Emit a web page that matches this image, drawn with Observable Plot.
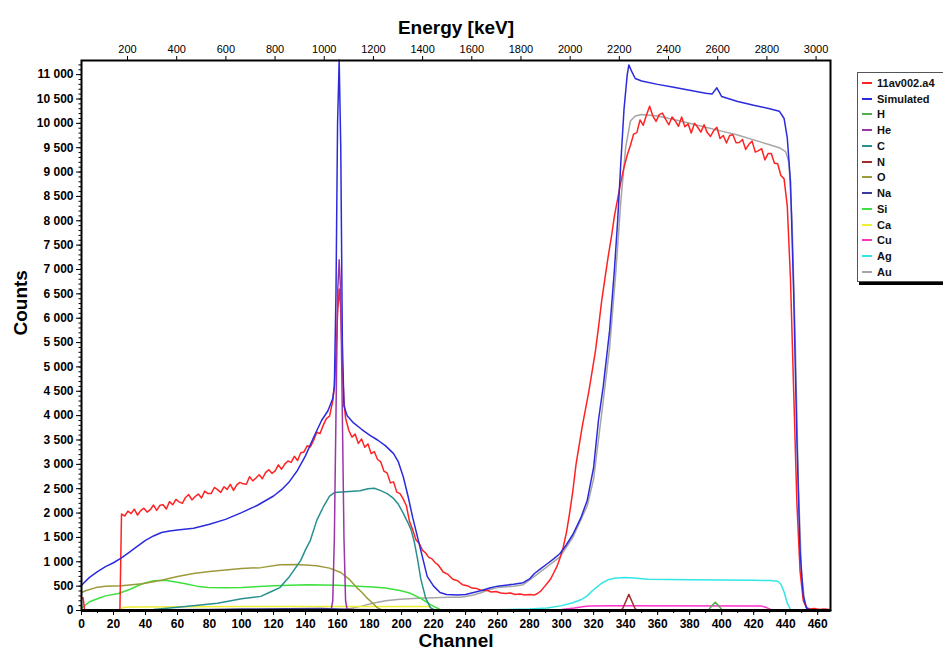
<!DOCTYPE html>
<html>
<head>
<meta charset="utf-8">
<script src="https://cdn.jsdelivr.net/npm/d3@7"></script>
<script src="https://cdn.jsdelivr.net/npm/@observablehq/plot@0.6"></script>
<style>
  html, body { margin: 0; padding: 0; background: #fff; }
  #wrap { position: relative; width: 943px; height: 657px; overflow: hidden; font-family: "Liberation Sans", Arial, sans-serif; }
  #legend { position: absolute; left: 857px; top: 72px; width: 95px; height: 210px; border: 1px solid #555; box-shadow: 2px 3px 0 #000; background: #fff; padding-top: 2px; box-sizing: border-box; }
  .row { height: 15.75px; display: flex; align-items: center; font-size: 11px; font-weight: bold; color: #111; }
  .sw { width: 10px; height: 2px; margin-left: 4px; margin-right: 5px; }
</style>
</head>
<body>
<div id="wrap"><div id="chart"></div><div id="legend"></div></div>
<script>
// ---- Data: [channel, counts] ----
const measured = [[0,260],[1,260],[2,0],[24,0],[25,1980],[27,1940],[29,2040],[31,1990],[33,2080],[35,1960],[37,2050],[39,2100],[41,2020],[43,2070],[45,2165],[47,2055],[49,2160],[51,2170],[53,2085],[55,2235],[57,2170],[59,2280],[61,2230],[63,2200],[65,2320],[67,2380],[69,2270],[71,2340],[73,2390],[75,2310],[77,2450],[79,2400],[81,2400],[83,2525],[85,2480],[87,2425],[89,2540],[91,2485],[93,2590],[95,2465],[97,2580],[99,2630],[101,2600],[103,2590],[105,2745],[107,2660],[109,2720],[111,2785],[113,2705],[115,2830],[117,2890],[119,2815],[121,2865],[123,2990],[125,2900],[127,3005],[129,3070],[131,3040],[133,3165],[135,3080],[137,3240],[139,3255],[141,3380],[143,3360],[145,3490],[147,3660],[149,3630],[151,3800],[153,3940],[155,3990],[156,4150],[157,4300],[158,4600],[159,5200],[160,6100],[161,6600],[162,6200],[163,5000],[164,4300],[165,3950],[167,3700],[169,3560],[171,3620],[173,3430],[175,3520],[177,3350],[179,3420],[181,3220],[183,3260],[185,3100],[187,3050],[189,2860],[191,2820],[193,2620],[195,2640],[197,2430],[199,2400],[201,2290],[203,2150],[205,1820],[207,1650],[209,1450],[211,1380],[213,1240],[215,1180],[217,1090],[219,1060],[221,980],[223,930],[226,790],[229,740],[232,640],[235,610],[238,530],[241,510],[244,460],[247,450],[250,410],[253,420],[256,380],[259,390],[262,360],[265,350],[268,360],[271,330],[274,340],[277,320],[280,330],[283,320],[285,350],[287,400],[289,480],[291,560],[293,640],[295,770],[297,900],[299,1080],[301,1300],[303,1600],[305,2000],[307,2450],[309,3000],[311,3400],[313,3800],[315,4150],[317,4500],[319,4900],[321,5300],[323,5800],[325,6350],[327,6800],[329,7250],[331,7650],[333,8100],[335,8450],[337,8800],[339,9100],[341,9350],[343,9550],[345,9780],[347,9810],[349,10070],[351,9960],[353,10170],[355,10350],[357,10150],[359,10040],[361,10180],[363,10210],[365,10080],[367,9970],[369,10130],[371,10050],[373,9940],[375,10130],[377,9930],[379,9990],[381,9800],[383,10000],[385,9920],[387,9820],[389,9970],[391,9810],[393,9730],[395,9850],[397,9920],[399,9690],[401,9750],[403,9595],[405,9750],[407,9765],[409,9600],[411,9605],[413,9670],[415,9465],[417,9570],[419,9635],[421,9410],[423,9440],[425,9480],[427,9250],[429,9380],[431,9380],[433,9180],[435,9170],[437,8930],[439,8860],[441,8300],[443,6800],[445,4500],[447,2200],[449,800],[451,200],[453,60],[455,30],[458,40],[461,20],[464,30],[467,20]];

const simulated = [[0,520],[5,680],[10,800],[15,900],[20,980],[25,1080],[30,1200],[35,1320],[40,1440],[45,1530],[50,1600],[55,1630],[60,1650],[70,1690],[80,1770],[90,1870],[100,2010],[110,2160],[120,2350],[125,2480],[130,2650],[135,2880],[140,3180],[145,3550],[150,3900],[154,4100],[157,4350],[158,4600],[159,6500],[160,10000],[161,11300],[162,9500],[163,5500],[164,4200],[166,4000],[170,3850],[175,3720],[180,3600],[185,3500],[190,3380],[195,3220],[198,3050],[201,2750],[204,2350],[207,1900],[210,1500],[213,1100],[216,700],[220,500],[224,370],[228,330],[235,320],[240,330],[245,370],[250,410],[255,460],[260,500],[265,520],[270,540],[276,570],[280,650],[283,760],[287,860],[291,960],[295,1060],[299,1170],[303,1350],[307,1560],[312,1900],[316,2260],[320,2940],[323,3900],[326,4600],[330,5750],[333,7000],[335,8000],[337,9200],[339,10300],[341,11000],[342,11200],[344,11050],[346,10920],[350,10870],[360,10800],[370,10740],[380,10680],[390,10620],[394,10600],[397,10730],[400,10550],[410,10450],[420,10370],[430,10300],[436,10250],[439,10100],[441,9700],[443,8800],[445,6500],[447,3500],[449,1200],[451,300],[453,50],[456,0],[468,0]];

const hSeries = [[0,0],[390,0],[392,20],[394,100],[396,170],[398,100],[400,20],[402,0],[468,0]];
const heSeries = [[0,0],[155,0],[156,20],[157,200],[158,1500],[159,4000],[160,6500],[161,7200],[162,6500],[163,4000],[164,1500],[165,200],[166,20],[167,0],[468,0]];
const cSeries = [[0,0],[30,0],[45,20],[65,80],[85,150],[100,240],[112,290],[118,380],[124,470],[130,700],[137,1030],[140,1250],[143,1440],[147,1850],[151,2120],[155,2350],[158,2420],[165,2440],[174,2460],[179,2500],[183,2510],[187,2460],[191,2400],[195,2300],[198,2180],[201,2000],[204,1800],[206,1650],[208,1400],[210,1050],[212,650],[215,260],[218,60],[221,0],[468,0]];
const nSeries = [[0,0],[336,0],[338,30],[340,180],[342,330],[344,180],[346,30],[348,0],[468,0]];
const oSeries = [[0,370],[3,410],[9,470],[15,500],[25,510],[38,550],[50,620],[60,700],[70,760],[80,800],[100,860],[112,880],[124,940],[135,945],[147,920],[155,870],[162,780],[167,650],[172,470],[175,380],[178,270],[182,150],[185,50],[188,10],[190,0],[468,0]];
const naSeries = [[0,10],[30,10],[80,20],[100,30],[150,40],[160,30],[170,20],[200,10],[240,0],[468,0]];
const siSeries = [[0,50],[5,180],[10,240],[15,300],[23,350],[30,430],[38,550],[45,610],[52,620],[58,590],[65,550],[72,500],[79,470],[90,465],[100,470],[120,510],[141,530],[160,520],[182,480],[190,460],[199,410],[205,360],[212,250],[218,120],[224,20],[228,0],[468,0]];
const caSeries = [[0,0],[24,0],[26,60],[30,70],[100,80],[200,80],[217,80],[220,20],[222,0],[468,0]];
const cuSeries = [[0,0],[280,0],[290,5],[300,20],[308,50],[314,80],[318,90],[330,95],[425,90],[428,60],[431,15],[433,0],[468,0]];
const agSeries = [[0,0],[220,0],[240,5],[260,15],[280,30],[291,50],[300,100],[307,160],[312,220],[316,300],[319,400],[322,480],[325,560],[329,630],[333,660],[339,675],[345,665],[354,640],[380,630],[400,625],[420,620],[430,615],[435,600],[437,540],[439,380],[441,150],[443,20],[445,0],[468,0]];
const auSeries = [[0,0],[160,0],[168,40],[175,90],[182,150],[190,200],[199,230],[210,250],[220,260],[230,270],[237,270],[245,320],[250,370],[255,430],[260,470],[270,500],[276,530],[283,700],[291,900],[299,1100],[307,1500],[316,2150],[320,2700],[323,3500],[326,4300],[330,5400],[334,7000],[337,8400],[340,9500],[343,10050],[346,10150],[350,10180],[360,10150],[370,10080],[380,10000],[390,9920],[400,9840],[410,9760],[420,9660],[430,9560],[436,9500],[440,9420],[442,9200],[444,8000],[446,5500],[448,2500],[450,700],[452,150],[454,0],[468,0]];

const seriesNames = ["11av002.a4","Simulated","H","He","C","N","O","Na","Si","Ca","Cu","Ag","Au"];
const seriesColors = ["#ff2222","#2b2bdd","#4fae4f","#9a36a8","#2a8f8f","#a52a2a","#9c9a3a","#3a3a9a","#3ee03e","#eeee33","#ff33cc","#33e6e6","#a6a6a6"];
const seriesData = [measured, simulated, hSeries, heSeries, cSeries, nSeries, oSeries, naSeries, siSeries, caSeries, cuSeries, agSeries, auSeries];

const yTicks = d3.range(0, 11001, 500);
const yMinor = d3.range(0, 11201, 100);
const xTicks = d3.range(0, 461, 20);
const xMinor = d3.range(0, 468, 10);
const energyTicks = [200,400,600,800,1000,1200,1400,1600,1800,2000,2200,2400,2600,2800,3000];
const KEV_PER_CH = 6.508, E0 = 12.9;   // energy calibration

const fmt = d => d >= 1000 ? `${Math.floor(d/1000)} ${String(d % 1000).padStart(3, "0")}` : `${d}`;

const drawOrder = [12,11,10,9,8,7,6,5,4,2,0,1,3];
const lineMarks = drawOrder.map(i => Plot.line(seriesData[i], {x: d => d[0], y: d => d[1], stroke: seriesColors[i], strokeWidth: 1.5}));

const chart = Plot.plot({
  width: 850, height: 657,
  marginLeft: 81, marginRight: 20, marginTop: 60, marginBottom: 47,
  style: {fontFamily: "'Liberation Sans', Arial, sans-serif", fontSize: "12px", fontWeight: "bold", color: "#000", background: "#fff"},
  x: {domain: [0, 468]},
  y: {domain: [0, 11290]},
  marks: [
    ...lineMarks,
    Plot.axisY({ticks: yMinor, tickSize: 2.5, tickFormat: () => "", label: null}),
    Plot.axisY({ticks: yTicks, tickSize: 5, tickPadding: 3, tickFormat: fmt, fontSize: 12, fontWeight: "bold", label: null}),
    Plot.axisX({ticks: xMinor, tickSize: 3, tickFormat: () => "", label: null}),
    Plot.axisX({ticks: xTicks, tickSize: 5, tickPadding: 4, fontSize: 12, fontWeight: "bold", label: null}),
    Plot.axisX({anchor: "top", ticks: energyTicks.map(e => (e - E0) / KEV_PER_CH), tickFormat: d => String(Math.round(d * KEV_PER_CH + E0)), tickSize: 5, tickPadding: 3, fontSize: 11, fontWeight: "normal", label: null}),
    Plot.frame({stroke: "#000", strokeWidth: 2}),
    Plot.ruleY([0], {stroke: "#000", strokeWidth: 3}),
    Plot.text(["Channel"], {frameAnchor: "bottom", dy: 36, fontSize: 19, fontWeight: "bold", text: d => d}),
    Plot.text(["Energy [keV]"], {frameAnchor: "top", dy: -40, fontSize: 19, fontWeight: "bold", text: d => d}),
    Plot.text(["Counts"], {frameAnchor: "left", dx: -61, rotate: -90, fontSize: 19, fontWeight: "bold", text: d => d})
  ]
});
document.getElementById("chart").appendChild(chart);

const legend = document.getElementById("legend");
seriesNames.forEach((name, i) => {
  const row = document.createElement("div");
  row.className = "row";
  row.innerHTML = `<span class="sw" style="background:${seriesColors[i]}"></span><span>${name}</span>`;
  legend.appendChild(row);
});
</script>
</body>
</html>
